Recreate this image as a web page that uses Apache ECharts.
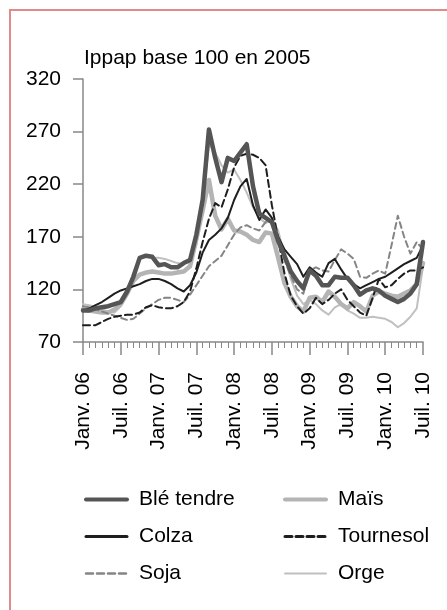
<!DOCTYPE html>
<html>
<head>
<meta charset="utf-8">
<script src="https://cdn.jsdelivr.net/npm/echarts@6/dist/echarts.min.js"></script>
<style>
html,body{margin:0;padding:0;background:#fff;}
#c{width:447px;height:610px;}
</style>
</head>
<body>
<div id="c"></div>
<script>
// Monthly index values, Janv. 06 .. Juil. 10 (55 months)
var xTickLabels = ['Janv. 06','Juil. 06','Janv. 07','Juil. 07','Janv. 08','Juil. 08','Janv. 09','Juil. 09','Janv. 10','Juil. 10'];
var yTicks = [70, 120, 170, 220, 270, 320];
var seriesNames = ['Blé tendre','Maïs','Colza','Tournesol','Soja','Orge'];

var ble = [100,100,102,103,104,106,108,118,132,150,152,151,143,144,141,141,145,148,172,205,272,245,222,245,242,250,258,218,192,188,184,166,152,137,128,121,138,133,124,124,132,131,131,124,115,119,121,119,114,111,108,111,116,125,165];
var mais = [101,100,99,98,98,101,106,116,128,134,136,137,136,135,135,136,137,142,168,195,224,190,177,187,176,175,172,167,165,174,173,150,126,113,104,99,112,113,108,118,113,106,102,108,104,99,114,118,116,114,113,116,119,125,145];
var colza = [100,102,105,108,112,116,119,121,123,125,128,130,130,128,125,121,118,124,136,155,167,172,178,188,205,218,225,200,186,196,188,170,158,151,144,132,141,136,132,145,149,139,130,125,121,124,127,130,132,136,140,144,147,150,162];
var tournesol = [86,86,86,89,92,94,95,96,96,98,103,105,103,102,102,104,108,118,140,165,187,202,198,215,236,247,249,248,245,238,200,168,135,114,104,97,102,112,106,110,116,120,110,104,98,95,112,130,122,124,130,135,138,138,141];
var soja = [104,103,101,99,97,95,93,91,92,97,102,106,110,112,112,110,108,115,124,133,142,147,152,162,172,179,181,178,176,184,184,166,148,133,120,116,138,141,138,137,148,158,154,149,132,131,135,138,135,162,190,170,154,165,158];
var orge = [106,105,103,101,99,98,104,118,136,149,151,150,150,149,147,145,144,150,162,200,258,250,238,231,234,224,212,198,188,183,186,176,152,130,114,106,110,106,100,96,103,106,100,97,93,93,94,93,92,89,84,88,94,102,142];

var FONT = "'Liberation Sans', Arial, sans-serif";
var FS = 21;
function pairs(arr){ return arr.map(function(v,i){ return [i,v]; }); }

var chart = echarts.init(document.getElementById('c'), null, {renderer:'canvas'});
var styles = {
  'Blé tendre': {color:'#555555', width:4.5, type:'solid', z:6},
  'Maïs': {color:'#b4b4b4', width:4.5, type:'solid', z:2},
  'Colza': {color:'#1e1e1e', width:2, type:'solid', z:5},
  'Tournesol': {color:'#1e1e1e', width:2, type:[7,4], z:4},
  'Soja': {color:'#858585', width:2, type:[6,4], z:3},
  'Orge': {color:'#c0c0c0', width:2, type:'solid', z:1}
};
var legendStyles = {
  'Blé tendre': {width:4, type:'solid'},
  'Maïs': {width:4, type:'solid'},
  'Colza': {width:3, type:'solid'},
  'Tournesol': {width:3, type:[7,4]},
  'Soja': {width:2.5, type:[7,4]},
  'Orge': {width:2, type:'solid'}
};
var dataMap = {'Blé tendre':ble,'Maïs':mais,'Colza':colza,'Tournesol':tournesol,'Soja':soja,'Orge':orge};

var series = seriesNames.map(function(n){
  var s = styles[n];
  return {
    name:n, type:'line', data:pairs(dataMap[n]), symbol:'none', z:s.z,
    lineStyle:{color:s.color, width:s.width, type:s.type, cap:'round', join:'round'},
    itemStyle:{color:s.color},
    animation:false
  };
});

function legendData(names){
  return names.map(function(n){
    var l = legendStyles[n];
    return {name:n, itemStyle:{opacity:0},
      lineStyle:{color:styles[n].color, width:l.width, type:l.type, cap:'round'}};
  });
}

var legendCommon = {
  orient:'vertical', padding:0, itemWidth:41, itemHeight:14, itemGap:16, itemTextGap:14,
  textStyle:{fontSize:FS, color:'#000', fontFamily:FONT, padding:[0,0,0,7]}
};

chart.setOption({
  backgroundColor:'#fff',
  animation:false,
  title:{text:'Ippap base 100 en 2005', left:79, top:43,
    textStyle:{fontSize:FS, fontWeight:'normal', color:'#000', fontFamily:FONT}},
  grid:{left:83, top:79, right:24, bottom:268, containLabel:false},
  legend:[
    Object.assign({}, legendCommon, {data:legendData(['Blé tendre','Colza','Soja']), left:84, top:489}),
    Object.assign({}, legendCommon, {data:legendData(['Maïs','Tournesol','Orge']), left:283, top:489})
  ],
  xAxis:{
    type:'value', min:0, max:54, interval:6,
    axisLine:{show:true, lineStyle:{color:'#888', width:1.5}},
    axisTick:{show:true, length:13, lineStyle:{color:'#888', width:1.5}},
    minorTick:{show:true, splitNumber:6, length:6, lineStyle:{color:'#888', width:1}},
    splitLine:{show:false},
    axisLabel:{rotate:90, margin:30, fontSize:FS, color:'#000', fontFamily:FONT,
      formatter:function(v){ return xTickLabels[Math.round(v/6)] || ''; }}
  },
  yAxis:{
    type:'value', min:yTicks[0], max:yTicks[yTicks.length-1], interval:50,
    axisLine:{show:true, lineStyle:{color:'#888', width:1.5}},
    axisTick:{show:true, length:10, lineStyle:{color:'#888', width:1.5}},
    splitLine:{show:false},
    axisLabel:{margin:22, fontSize:FS, color:'#000', fontFamily:FONT}
  },
  graphic:[{type:'rect', shape:{x:10, y:10, width:480, height:660},
    style:{fill:'none', stroke:'#e08a8a', lineWidth:2}, silent:true, z:-1}],
  series:series
});
</script>
</body>
</html>
